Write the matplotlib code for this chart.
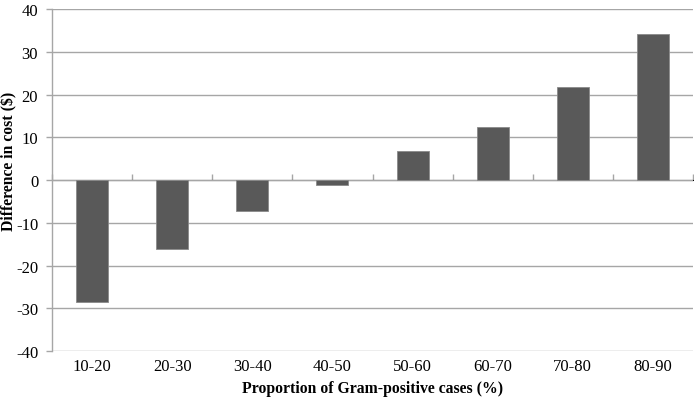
import numpy as np
import matplotlib.pyplot as plt
from matplotlib.ticker import FuncFormatter

# data
categories = ["10-20", "20-30", "30-40", "40-50", "50-60", "60-70", "70-80", "80-90"]
diff_cost = [-28.6, -16.0, -7.2, -1.2, 6.7, 12.5, 21.8, 34.2]

plt.rcParams["font.family"] = ["Liberation Serif", "DejaVu Serif"]
plt.rcParams["axes.unicode_minus"] = False

GRID = "#a6a6a6"
BAR = "#595959"

fig = plt.figure(figsize=(6.94, 4.02), dpi=100)
ax = fig.add_axes([0.075, 0.124, 0.9235, 0.851])

x = np.arange(len(categories))
ax.bar(x, diff_cost, width=0.4, color=BAR, edgecolor="#8a8a8a", linewidth=0.6, zorder=3)

ax.set_xlim(-0.5, len(categories) - 0.5)
ax.set_ylim(-40, 40)
ax.set_yticks(np.arange(-40, 41, 10))
ax.yaxis.set_major_formatter(FuncFormatter(lambda v, p: f"{v:.0f}"))
ax.yaxis.grid(True, color=GRID, linewidth=1.0, zorder=0)
ax.set_axisbelow(True)

for s in ["top", "right", "bottom"]:
    ax.spines[s].set_visible(False)
ax.spines["left"].set_color(GRID)
ax.spines["left"].set_linewidth(1.0)
ax.tick_params(axis="y", colors=GRID, length=4, width=1.0, pad=6,
               labelcolor="black", labelsize=12)

# category labels at the bottom, no ticks
ax.set_xticks(x)
ax.set_xticklabels(categories)
ax.tick_params(axis="x", length=0, pad=5, labelsize=12)

# zero line with category-boundary ticks (Excel style)
sec = ax.secondary_xaxis(0.5)
sec.set_xticks(np.arange(len(categories) + 1) - 0.5)
sec.set_xticklabels([])
sec.spines["bottom"].set_color(GRID)
sec.spines["bottom"].set_linewidth(1.0)
sec.tick_params(axis="x", direction="out", length=4, width=1.0, colors=GRID)

ax.set_xlabel("Proportion of Gram-positive cases (%)", fontsize=11.3,
              fontweight="bold", labelpad=4)
ax.set_ylabel("Difference in cost ($)", fontsize=11.3, fontweight="bold")
ax.yaxis.set_label_coords(-0.054, 0.558)

fig.savefig("out.png", dpi=100, facecolor="white")
